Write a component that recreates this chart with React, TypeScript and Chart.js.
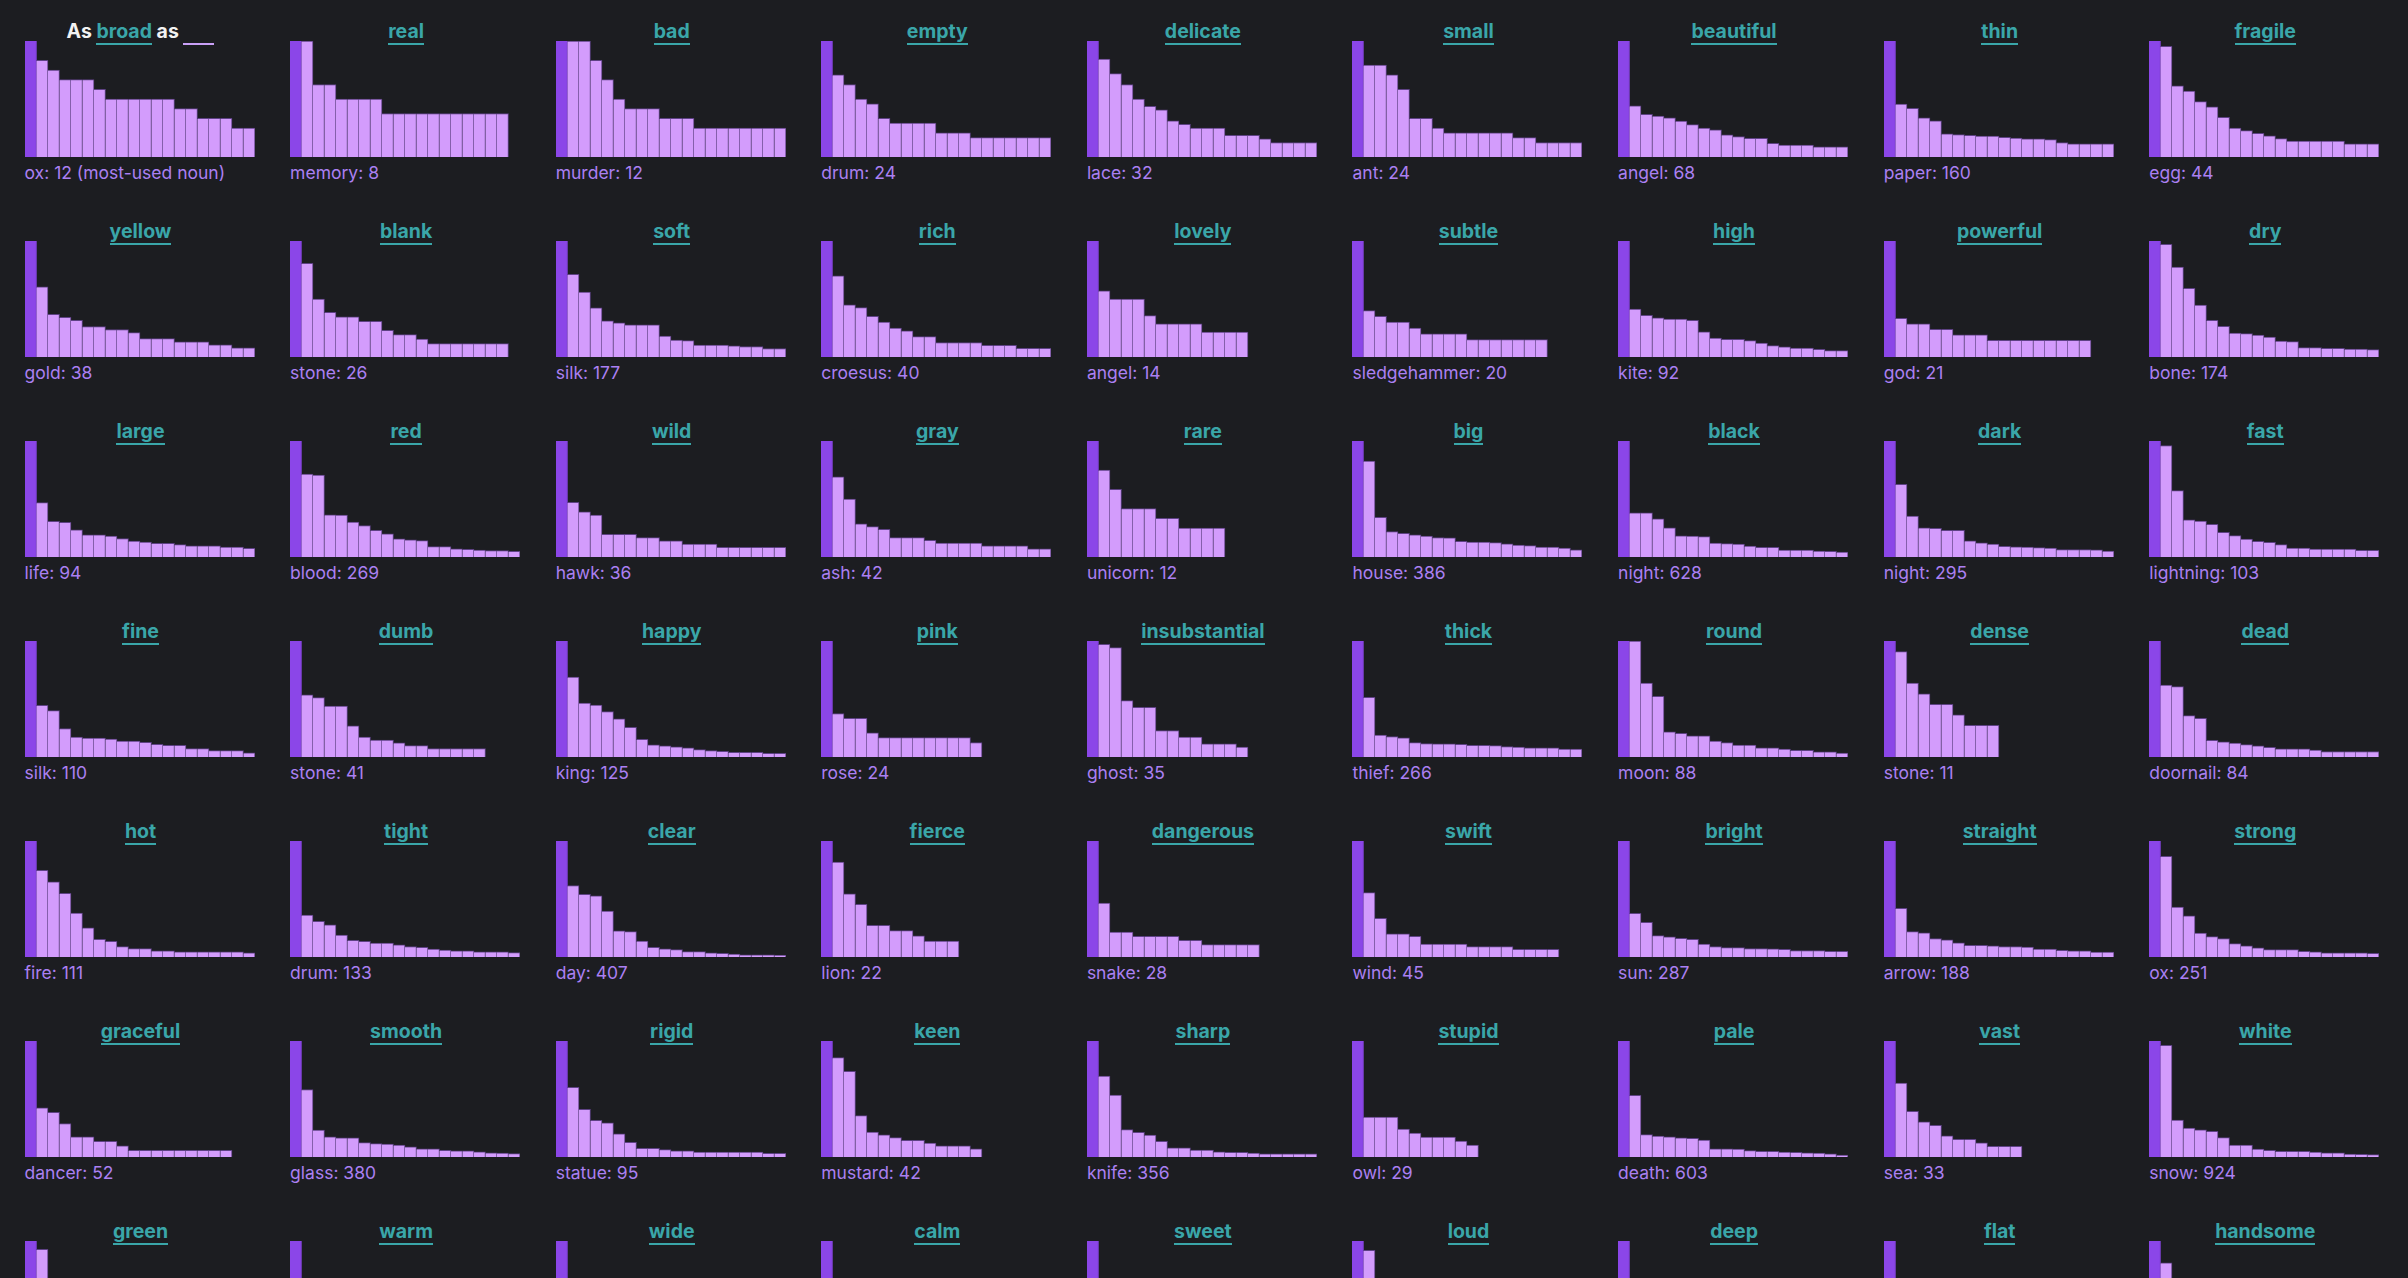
import React, { useEffect, useRef } from "react";
import Chart from "chart.js/auto";

// rank slots on the x axis (every panel has room for 20 nouns)
const ranks = ["1", "2", "3", "4", "5", "6", "7", "8", "9", "10", "11", "12", "13", "14", "15", "16", "17", "18", "19", "20"];

const adjectives = [
    "broad", "real", "bad", "empty", "delicate", "small", "beautiful", "thin", "fragile",
    "yellow", "blank", "soft", "rich", "lovely", "subtle", "high", "powerful", "dry",
    "large", "red", "wild", "gray", "rare", "big", "black", "dark", "fast",
    "fine", "dumb", "happy", "pink", "insubstantial", "thick", "round", "dense", "dead",
    "hot", "tight", "clear", "fierce", "dangerous", "swift", "bright", "straight", "strong",
    "graceful", "smooth", "rigid", "keen", "sharp", "stupid", "pale", "vast", "white",
    "green", "warm", "wide", "calm", "sweet", "loud", "deep", "flat", "handsome",
];

const topNouns = [
    "ox", "memory", "murder", "drum", "lace", "ant", "angel", "paper", "egg",
    "gold", "stone", "silk", "croesus", "angel", "sledgehammer", "kite", "god", "bone",
    "life", "blood", "hawk", "ash", "unicorn", "house", "night", "night", "lightning",
    "silk", "stone", "king", "rose", "ghost", "thief", "moon", "stone", "doornail",
    "fire", "drum", "day", "lion", "snake", "wind", "sun", "arrow", "ox",
    "dancer", "glass", "statue", "mustard", "knife", "owl", "death", "sea", "snow",
    "grass", "toast", "ocean", "millpond", "honey", "thunder", "ocean", "pancake", "god",
];

// noun counts per adjective, most-used noun first
const broadCounts = [12, 10, 9, 8, 8, 8, 7, 6, 6, 6, 6, 6, 6, 5, 5, 4, 4, 4, 3, 3];
const realCounts = [8, 8, 5, 5, 4, 4, 4, 4, 3, 3, 3, 3, 3, 3, 3, 3, 3, 3, 3];
const badCounts = [12, 12, 12, 10, 8, 6, 5, 5, 5, 4, 4, 4, 3, 3, 3, 3, 3, 3, 3, 3];
const emptyCounts = [24, 17, 15, 12, 11, 8, 7, 7, 7, 7, 5, 5, 5, 4, 4, 4, 4, 4, 4, 4];
const delicateCounts = [32, 27, 23, 20, 16, 14, 13, 10, 9, 8, 8, 8, 6, 6, 6, 5, 4, 4, 4, 4];
const smallCounts = [24, 19, 19, 17, 14, 8, 8, 6, 5, 5, 5, 5, 5, 5, 4, 4, 3, 3, 3, 3];
const beautifulCounts = [68, 30, 25, 24, 23, 21, 19, 17, 16, 13, 12, 11, 11, 8, 7, 7, 7, 6, 6, 6];
const thinCounts = [160, 73, 67, 54, 50, 32, 31, 30, 29, 29, 27, 26, 25, 25, 24, 20, 18, 18, 18, 18];
const fragileCounts = [44, 42, 27, 25, 21, 19, 15, 11, 10, 9, 8, 7, 6, 6, 6, 6, 6, 5, 5, 5];

const yellowCounts = [38, 23, 14, 13, 12, 10, 10, 9, 9, 8, 6, 6, 6, 5, 5, 5, 4, 4, 3, 3];
const blankCounts = [26, 21, 13, 10, 9, 9, 8, 8, 6, 5, 5, 4, 3, 3, 3, 3, 3, 3, 3];
const softCounts = [177, 126, 99, 75, 55, 52, 49, 49, 49, 32, 26, 25, 18, 18, 18, 17, 16, 16, 13, 13];
const richCounts = [40, 28, 18, 17, 14, 12, 10, 9, 7, 7, 5, 5, 5, 5, 4, 4, 4, 3, 3, 3];
const lovelyCounts = [14, 8, 7, 7, 7, 5, 4, 4, 4, 4, 3, 3, 3, 3];
const subtleCounts = [20, 8, 7, 6, 6, 5, 4, 4, 4, 4, 3, 3, 3, 3, 3, 3, 3];
const highCounts = [92, 38, 33, 31, 30, 30, 29, 20, 15, 14, 14, 13, 11, 9, 8, 7, 7, 6, 5, 5];
const powerfulCounts = [21, 7, 6, 6, 5, 5, 4, 4, 4, 3, 3, 3, 3, 3, 3, 3, 3, 3];
const dryCounts = [174, 169, 135, 103, 78, 55, 46, 36, 35, 33, 30, 24, 23, 14, 14, 13, 13, 12, 12, 11];

const largeCounts = [94, 44, 29, 28, 22, 18, 18, 17, 15, 13, 12, 11, 11, 10, 9, 9, 9, 8, 8, 7];
const redCounts = [269, 192, 190, 98, 97, 81, 73, 62, 54, 42, 40, 38, 24, 24, 19, 18, 16, 15, 15, 13];
const wildCounts = [36, 17, 14, 13, 7, 7, 7, 6, 6, 5, 5, 4, 4, 4, 3, 3, 3, 3, 3, 3];
const grayCounts = [42, 29, 21, 12, 11, 10, 7, 7, 7, 6, 5, 5, 5, 5, 4, 4, 4, 4, 3, 3];
const rareCounts = [12, 9, 7, 5, 5, 5, 4, 4, 3, 3, 3, 3];
const bigCounts = [386, 319, 132, 85, 79, 74, 70, 65, 64, 52, 50, 50, 48, 44, 40, 38, 33, 33, 30, 24];
const blackCounts = [628, 239, 239, 207, 158, 115, 113, 110, 76, 72, 70, 59, 52, 52, 38, 38, 38, 32, 31, 27];
const darkCounts = [295, 185, 104, 74, 73, 68, 68, 41, 36, 33, 27, 26, 25, 24, 23, 19, 19, 19, 18, 15];
const fastCounts = [103, 99, 59, 33, 32, 29, 22, 19, 16, 14, 13, 11, 8, 8, 7, 7, 7, 7, 6, 6];

const fineCounts = [110, 49, 44, 27, 19, 18, 18, 17, 15, 15, 14, 12, 11, 11, 8, 8, 6, 6, 6, 4];
const dumbCounts = [41, 22, 21, 18, 18, 11, 7, 6, 6, 5, 4, 4, 3, 3, 3, 3, 3];
const happyCounts = [125, 86, 58, 56, 49, 41, 32, 19, 13, 12, 11, 10, 8, 7, 6, 5, 5, 5, 4, 4];
const pinkCounts = [24, 9, 8, 8, 5, 4, 4, 4, 4, 4, 4, 4, 4, 3];
const insubstantialCounts = [35, 34, 33, 17, 15, 15, 8, 8, 6, 6, 4, 4, 4, 3];
const thickCounts = [266, 137, 50, 47, 44, 33, 31, 30, 30, 29, 27, 27, 26, 24, 23, 21, 21, 21, 18, 18];
const roundCounts = [88, 88, 56, 46, 19, 18, 16, 16, 12, 11, 9, 9, 7, 7, 6, 5, 5, 4, 4, 3];
const denseCounts = [11, 10, 7, 6, 5, 5, 4, 3, 3, 3];
const deadCounts = [84, 52, 51, 30, 28, 12, 11, 10, 9, 8, 7, 6, 6, 6, 5, 4, 4, 4, 4, 4];

const hotCounts = [111, 83, 72, 61, 42, 28, 17, 15, 10, 8, 8, 6, 6, 5, 5, 5, 5, 5, 5, 4];
const tightCounts = [133, 48, 41, 37, 25, 19, 18, 16, 16, 14, 12, 11, 9, 8, 7, 7, 6, 6, 6, 5];
const clearCounts = [407, 251, 220, 215, 161, 92, 89, 56, 34, 29, 26, 19, 19, 15, 13, 10, 8, 8, 8, 6];
const fierceCounts = [22, 18, 12, 10, 6, 6, 5, 5, 4, 3, 3, 3];
const dangerousCounts = [28, 13, 6, 6, 5, 5, 5, 5, 4, 4, 3, 3, 3, 3, 3];
const swiftCounts = [45, 25, 15, 9, 9, 8, 5, 5, 5, 5, 4, 4, 4, 4, 3, 3, 3, 3];
const brightCounts = [287, 108, 86, 53, 50, 46, 44, 32, 26, 23, 23, 21, 21, 20, 19, 16, 16, 16, 14, 14];
const straightCounts = [188, 79, 41, 39, 30, 28, 23, 19, 19, 18, 17, 17, 16, 13, 13, 11, 10, 10, 8, 8];
const strongCounts = [251, 218, 108, 89, 52, 44, 40, 29, 24, 20, 16, 16, 16, 12, 11, 9, 9, 9, 9, 8];

const gracefulCounts = [52, 22, 20, 15, 9, 9, 7, 7, 5, 3, 3, 3, 3, 3, 3, 3, 3, 3];
const smoothCounts = [380, 221, 88, 66, 63, 63, 47, 44, 42, 39, 33, 27, 27, 22, 20, 20, 17, 14, 13, 11];
const rigidCounts = [95, 57, 39, 30, 28, 19, 12, 7, 7, 6, 5, 5, 4, 4, 4, 4, 4, 4, 3, 3];
const keenCounts = [42, 36, 31, 15, 9, 8, 7, 6, 6, 5, 4, 4, 4, 3];
const sharpCounts = [356, 248, 190, 84, 76, 67, 48, 28, 28, 21, 21, 16, 14, 14, 12, 10, 10, 10, 10, 10];
const stupidCounts = [29, 10, 10, 10, 7, 6, 5, 5, 5, 4, 3];
const paleCounts = [603, 321, 116, 109, 105, 100, 97, 88, 43, 43, 41, 33, 29, 29, 26, 24, 22, 21, 17, 10];
const vastCounts = [33, 21, 13, 10, 9, 6, 5, 5, 4, 3, 3, 3];
const whiteCounts = [924, 890, 294, 230, 217, 204, 154, 95, 95, 64, 53, 45, 45, 45, 40, 34, 34, 24, 21, 19];

// last row is cut off at the bottom of the page, only the tops show
const greenCounts = [70, 65, 30, 20, 15, 12, 10, 9, 8, 7, 6, 6, 5, 5, 4, 4, 4, 3, 3, 3];
const warmCounts = [40, 22, 14, 10, 8, 7, 6, 5, 5, 4, 4, 4, 3, 3, 3, 3, 3, 3, 3, 3];
const wideCounts = [30, 12, 9, 7, 6, 5, 5, 4, 4, 3, 3, 3, 3, 3, 3];
const calmCounts = [25, 10, 8, 6, 5, 5, 4, 4, 3, 3, 3, 3, 3];
const sweetCounts = [60, 28, 20, 15, 12, 10, 9, 8, 7, 6, 5, 5, 4, 4, 4, 3, 3, 3, 3, 3];
const loudCounts = [50, 46, 20, 14, 10, 8, 7, 6, 5, 5, 4, 4, 3, 3, 3, 3, 3, 3, 3, 3];
const deepCounts = [45, 20, 14, 10, 8, 7, 6, 5, 5, 4, 4, 3, 3, 3, 3, 3, 3, 3, 3, 3];
const flatCounts = [80, 30, 20, 14, 10, 8, 7, 6, 5, 5, 4, 4, 4, 3, 3, 3, 3, 3, 3, 3];
const handsomeCounts = [16, 13, 5, 4, 4, 3, 3, 3, 3, 3, 3, 3];

const allCounts = [
    broadCounts, realCounts, badCounts, emptyCounts, delicateCounts, smallCounts, beautifulCounts, thinCounts, fragileCounts,
    yellowCounts, blankCounts, softCounts, richCounts, lovelyCounts, subtleCounts, highCounts, powerfulCounts, dryCounts,
    largeCounts, redCounts, wildCounts, grayCounts, rareCounts, bigCounts, blackCounts, darkCounts, fastCounts,
    fineCounts, dumbCounts, happyCounts, pinkCounts, insubstantialCounts, thickCounts, roundCounts, denseCounts, deadCounts,
    hotCounts, tightCounts, clearCounts, fierceCounts, dangerousCounts, swiftCounts, brightCounts, straightCounts, strongCounts,
    gracefulCounts, smoothCounts, rigidCounts, keenCounts, sharpCounts, stupidCounts, paleCounts, vastCounts, whiteCounts,
    greenCounts, warmCounts, wideCounts, calmCounts, sweetCounts, loudCounts, deepCounts, flatCounts, handsomeCounts,
];

const BG = "#1c1d21";
const TEAL = "#3aa6a9";
const TOP_BAR = "#8b46e8";
const REST_BAR = "#d39cfc";
const EDGE = "#5e4285";
const LABEL = "#ab80f2";
const FONT = "Inter, 'Noto Sans', sans-serif";

interface PanelProps {
    index: number;
    adjective: string;
    noun: string;
    counts: number[];
}

const Panel: React.FC<PanelProps> = ({ index, adjective, noun, counts }) => {
    const canvasRef = useRef<HTMLCanvasElement | null>(null);

    useEffect(() => {
        if (!canvasRef.current) return;
        const ctx = canvasRef.current.getContext("2d");
        if (!ctx) return;

        const chart = new Chart(ctx, {
            type: "bar",
            data: {
                labels: ranks,
                datasets: [
                    {
                        data: counts,
                        backgroundColor: counts.map((_, i) => (i === 0 ? TOP_BAR : REST_BAR)),
                        borderColor: counts.map((_, i) => (i === 0 ? TOP_BAR : EDGE)),
                        borderWidth: { top: 1, right: 1, left: 0, bottom: 0 },
                        categoryPercentage: 1,
                        barPercentage: 1,
                    },
                ],
            },
            options: {
                animation: false,
                responsive: false,
                events: [],
                layout: { padding: 0 },
                plugins: {
                    legend: { display: false },
                    tooltip: { enabled: false },
                },
                scales: {
                    x: { display: false },
                    y: { display: false, min: 0, max: counts[0] },
                },
            },
        });

        return () => {
            chart.destroy();
        };
    }, [counts]);

    const underlined: React.CSSProperties = {
        color: TEAL,
        borderBottom: `2px solid ${TEAL}`,
        paddingBottom: 1,
        display: "inline-block",
        lineHeight: 1,
    };

    return (
        <div style={{ position: "relative", width: 265.6, height: 200 }}>
            <div
                style={{
                    position: "absolute",
                    top: 22,
                    left: 0,
                    width: 232,
                    textAlign: "center",
                    fontFamily: FONT,
                    fontWeight: 700,
                    fontSize: 19.5,
                    lineHeight: 1,
                    whiteSpace: "nowrap",
                }}
            >
                {index === 0 ? (
                    <>
                        <span style={{ color: "#f2f2f2" }}>As </span>
                        <span style={underlined}>{adjective}</span>
                        <span style={{ color: "#f2f2f2" }}> as </span>
                        <span
                            style={{
                                display: "inline-block",
                                width: 31,
                                borderBottom: "2px solid #c9a0f7",
                                paddingBottom: 1,
                                lineHeight: 1,
                            }}
                        >
                            &nbsp;
                        </span>
                    </>
                ) : (
                    <span style={underlined}>{adjective}</span>
                )}
            </div>
            <canvas
                ref={canvasRef}
                width={230}
                height={116}
                style={{ position: "absolute", top: 41, left: 0, width: 230, height: 116 }}
            ></canvas>
            <div
                style={{
                    position: "absolute",
                    top: 163.5,
                    left: 0,
                    fontFamily: FONT,
                    fontSize: 17.5,
                    lineHeight: 1,
                    color: LABEL,
                    whiteSpace: "nowrap",
                }}
            >
                {noun}: {counts[0]}
                {index === 0 ? " (most-used noun)" : ""}
            </div>
        </div>
    );
};

export default function App() {
    return (
        <div
            style={{
                position: "fixed",
                inset: 0,
                background: BG,
                overflow: "hidden",
            }}
        >
            <div
                style={{
                    display: "grid",
                    gridTemplateColumns: "repeat(9, 265.6px)",
                    gridAutoRows: "200px",
                    paddingLeft: 24.5,
                }}
            >
                {adjectives.map((adj, i) => (
                    <Panel key={adj + i} index={i} adjective={adj} noun={topNouns[i]} counts={allCounts[i]} />
                ))}
            </div>
        </div>
    );
}
